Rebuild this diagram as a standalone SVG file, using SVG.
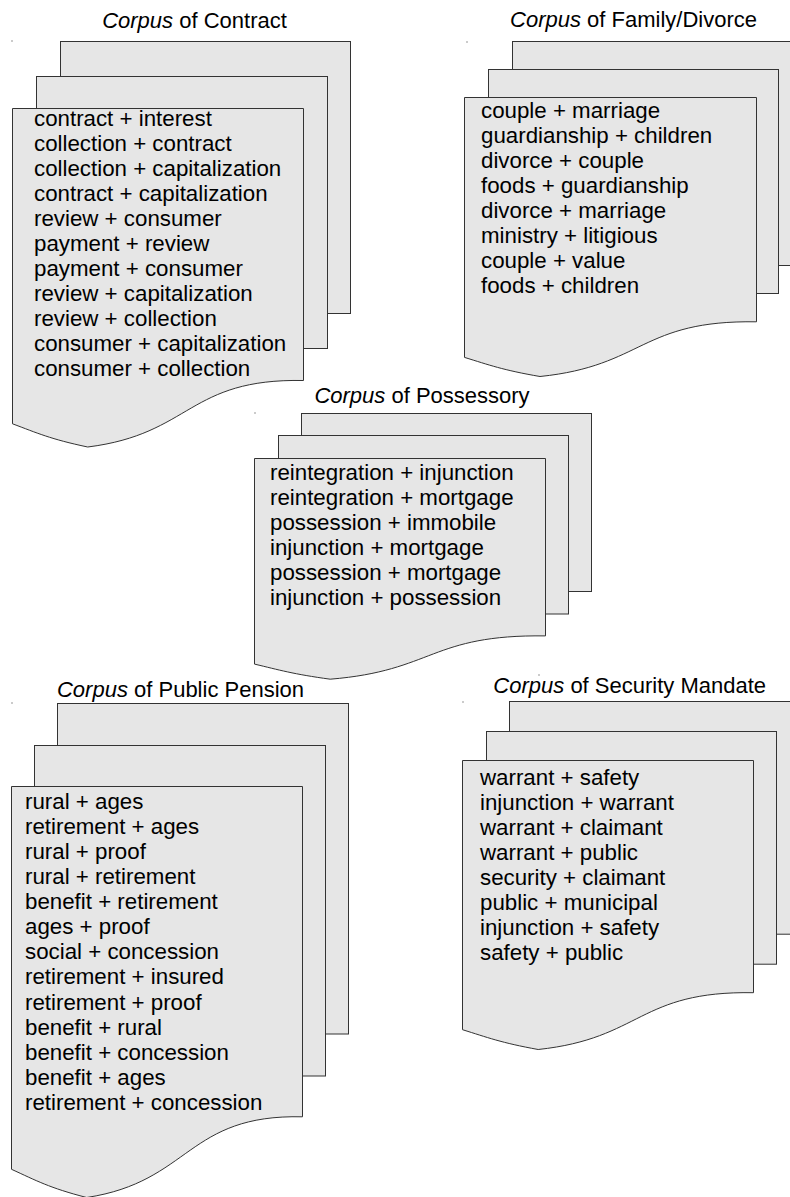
<svg xmlns="http://www.w3.org/2000/svg" width="790" height="1197" viewBox="0 0 790 1197">
<style>
.sh{fill:#e6e6e6;stroke:#333;stroke-width:1}
.t{font-family:"Liberation Sans",Arial,sans-serif;font-size:22.3px;fill:#000}
.ti{font-family:"Liberation Sans",Arial,sans-serif;font-size:22px;fill:#000;text-anchor:middle}
.it{font-style:italic}
.dot{fill:#333}
</style>
<rect width="790" height="1197" fill="#fff"/>
<g id="dots">
<rect class="dot" x="11.5" y="40.5" width="1" height="1"/>
<rect class="dot" x="466.5" y="41.5" width="1" height="1"/>
<rect class="dot" x="254.5" y="412.5" width="1" height="1"/>
<rect class="dot" x="11.5" y="702.5" width="1" height="1"/>
<rect class="dot" x="462.5" y="701.5" width="1" height="1"/>
<rect class="dot" x="538.5" y="674.5" width="1" height="1"/>
</g>
<g id="contract">
<text class="ti" x="194.5" y="27.5"><tspan class="it">Corpus</tspan> of Contract</text>
<rect class="sh" x="60.5" y="41.5" width="290" height="272"/>
<rect class="sh" x="36.5" y="76.5" width="291" height="272"/>
<path class="sh" d="M12.5,108.5 H303.5 V380.5 C187.8,378.3 191.7,434 87.7,447 C50.5,439.2 36.9,432.9 12.5,423.8 Z"/>
<text class="t" x="34">
<tspan x="34" y="126">contract + interest</tspan>
<tspan x="34" y="151">collection + contract</tspan>
<tspan x="34" y="176">collection + capitalization</tspan>
<tspan x="34" y="201">contract + capitalization</tspan>
<tspan x="34" y="226">review + consumer</tspan>
<tspan x="34" y="251">payment + review</tspan>
<tspan x="34" y="276">payment + consumer</tspan>
<tspan x="34" y="301">review + capitalization</tspan>
<tspan x="34" y="326">review + collection</tspan>
<tspan x="34" y="351">consumer + capitalization</tspan>
<tspan x="34" y="376">consumer + collection</tspan>
</text>
</g>
<g id="family">
<text class="ti" x="633.5" y="27"><tspan class="it">Corpus</tspan> of Family/Divorce</text>
<rect class="sh" x="512.5" y="41.5" width="291" height="224"/>
<rect class="sh" x="488.5" y="69.5" width="290" height="224"/>
<path class="sh" d="M464.5,97.5 H756.5 V321.8 C640.4,320 644.3,365.8 540,376.5 C502.7,370.1 489,364.9 464.5,357.4 Z"/>
<text class="t" x="481">
<tspan x="481" y="117.5">couple + marriage</tspan>
<tspan x="481" y="142.5">guardianship + children</tspan>
<tspan x="481" y="167.5">divorce + couple</tspan>
<tspan x="481" y="192.5">foods + guardianship</tspan>
<tspan x="481" y="217.5">divorce + marriage</tspan>
<tspan x="481" y="242.5">ministry + litigious</tspan>
<tspan x="481" y="267.5">couple + value</tspan>
<tspan x="481" y="292.5">foods + children</tspan>
</text>
</g>
<g id="possessory">
<text class="ti" x="422" y="403"><tspan class="it">Corpus</tspan> of Possessory</text>
<rect class="sh" x="301.5" y="413.5" width="290" height="178"/>
<rect class="sh" x="278.5" y="435.5" width="290" height="178.5"/>
<path class="sh" d="M254.5,458.5 H545.5 V635.9 C430.3,634.4 434.2,670.7 330.2,679.2 C293,674.1 279.4,670 254.5,664.1 Z"/>
<text class="t" x="270">
<tspan x="270" y="480">reintegration + injunction</tspan>
<tspan x="270" y="505">reintegration + mortgage</tspan>
<tspan x="270" y="530">possession + immobile</tspan>
<tspan x="270" y="555">injunction + mortgage</tspan>
<tspan x="270" y="580">possession + mortgage</tspan>
<tspan x="270" y="605">injunction + possession</tspan>
</text>
</g>
<g id="pension">
<text class="ti" x="180.5" y="696.5"><tspan class="it">Corpus</tspan> of Public Pension</text>
<rect class="sh" x="57.5" y="703.5" width="291" height="330.5"/>
<rect class="sh" x="34.5" y="745.5" width="291" height="330.5"/>
<path class="sh" d="M11.5,786.5 H302.5 V1116.8 C186.8,1114.1 190.7,1181.7 86.7,1197.5 C49.5,1188 35.9,1180.4 11.5,1169.3 Z"/>
<text class="t" x="25">
<tspan x="25" y="808.5">rural + ages</tspan>
<tspan x="25" y="833.6">retirement + ages</tspan>
<tspan x="25" y="858.8">rural + proof</tspan>
<tspan x="25" y="883.9">rural + retirement</tspan>
<tspan x="25" y="909">benefit + retirement</tspan>
<tspan x="25" y="934.1">ages + proof</tspan>
<tspan x="25" y="959.3">social + concession</tspan>
<tspan x="25" y="984.4">retirement + insured</tspan>
<tspan x="25" y="1009.5">retirement + proof</tspan>
<tspan x="25" y="1034.6">benefit + rural</tspan>
<tspan x="25" y="1059.8">benefit + concession</tspan>
<tspan x="25" y="1084.9">benefit + ages</tspan>
<tspan x="25" y="1110">retirement + concession</tspan>
</text>
</g>
<g id="security">
<text class="ti" x="629.7" y="692.5"><tspan class="it">Corpus</tspan> of Security Mandate</text>
<rect class="sh" x="509.5" y="701.5" width="291" height="232.7"/>
<rect class="sh" x="486.5" y="731.5" width="290" height="232.7"/>
<path class="sh" d="M462.5,760.5 H753.5 V992.7 C638.3,990.8 642.2,1038.4 538.2,1049.5 C501,1042.8 487.4,1037.4 462.5,1029.7 Z"/>
<text class="t" x="480">
<tspan x="480" y="784.5">warrant + safety</tspan>
<tspan x="480" y="809.6">injunction + warrant</tspan>
<tspan x="480" y="834.6">warrant + claimant</tspan>
<tspan x="480" y="859.7">warrant + public</tspan>
<tspan x="480" y="884.8">security + claimant</tspan>
<tspan x="480" y="909.8">public + municipal</tspan>
<tspan x="480" y="934.9">injunction + safety</tspan>
<tspan x="480" y="960">safety + public</tspan>
</text>
</g>
<g id="connectors"></g>
</svg>
